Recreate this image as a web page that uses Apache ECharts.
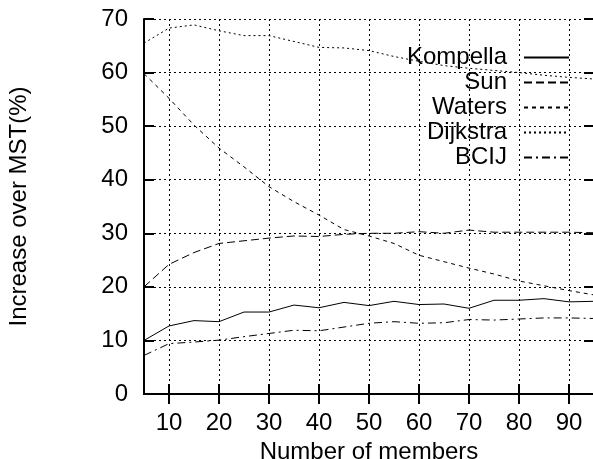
<!DOCTYPE html>
<html>
<head>
<meta charset="utf-8">
<script src="https://cdn.jsdelivr.net/npm/echarts@6/dist/echarts.min.js"></script>
<style>
  html, body { margin: 0; padding: 0; background: #fff; }
  #chart { width: 593px; height: 459px; }
</style>
</head>
<body>
<div id="chart"></div>
<script>
// group sizes (x) and increase over MST per algorithm
const members = [5, 10, 15, 20, 25, 30, 35, 40, 45, 50, 55, 60, 65, 70, 75, 80, 85, 90, 95];
const kompella = [10, 12.7, 13.7, 13.5, 15.3, 15.3, 16.6, 16.1, 17.1, 16.5, 17.3, 16.7, 16.8, 16.0, 17.5, 17.5, 17.8, 17.2, 17.3];
const sun = [20, 24.2, 26.4, 28.1, 28.6, 29.1, 29.5, 29.4, 29.8, 30.0, 30.0, 30.3, 30.0, 30.6, 30.2, 30.2, 30.2, 30.2, 30.1];
const waters = [59.8, 55.2, 50.2, 45.9, 42.4, 38.7, 35.9, 33.4, 30.7, 29.5, 28.1, 25.9, 24.7, 23.5, 22.4, 21.1, 20.2, 19.3, 18.5];
const dijkstra = [65.5, 68.3, 68.9, 67.8, 66.9, 66.9, 65.8, 64.7, 64.6, 64.1, 63.0, 62.1, 61.3, 60.8, 60.4, 60.0, 59.5, 59.1, 58.8];
const bcij = [7.2, 9.4, 9.7, 10.05, 10.7, 11.3, 11.9, 11.8, 12.5, 13.2, 13.5, 13.2, 13.3, 13.9, 13.8, 14.0, 14.2, 14.2, 14.1];
const xTicks = [10, 20, 30, 40, 50, 60, 70, 80, 90];

const FONT = 'Liberation Sans';
const FONT_SIZE = 24;
const seriesDefs = [
  { name: 'Kompella', data: kompella, type: 'solid' },
  { name: 'Sun', data: sun, type: [8, 4] },
  { name: 'Waters', data: waters, type: [4, 4] },
  { name: 'Dijkstra', data: dijkstra, type: [2, 3] },
  { name: 'BCIJ', data: bcij, type: [8, 4, 2, 4] },
];

const gridLine = {
  show: true,
  lineStyle: { color: '#000', width: 1, type: [2, 3] },
};
const tickStyle = { color: '#000', width: 2 };

const chart = echarts.init(document.getElementById('chart'));
chart.setOption({
  animation: false,
  textStyle: { fontFamily: FONT },
  grid: { left: 144, right: -1, top: 19, bottom: 65, outerBoundsMode: 'none' },
  legend: {
    right: 18,
    top: 40,
    orient: 'vertical',
    align: 'right',
    itemWidth: 45,
    itemHeight: 10,
    itemGap: 0,
    itemStyle: { color: 'transparent', borderWidth: 0 },
    textStyle: {
      fontFamily: FONT,
      fontSize: FONT_SIZE,
      color: '#000',
      lineHeight: 25,
      padding: [0, 12, 0, 0],
    },
  },
  xAxis: [
    {
      type: 'value',
      min: 5,
      max: 95,
      name: 'Number of members',
      nameLocation: 'middle',
      nameGap: 46,
      nameTextStyle: { fontFamily: FONT, fontSize: FONT_SIZE, color: '#000' },
      axisLine: { lineStyle: { color: '#000', width: 2 } },
      axisTick: { inside: true, length: 10, customValues: xTicks, lineStyle: tickStyle },
      axisLabel: { customValues: xTicks, margin: 17, fontFamily: FONT, fontSize: FONT_SIZE, color: '#000' },
      splitLine: gridLine,
    },
    {
      type: 'value',
      position: 'top',
      min: 5,
      max: 95,
      axisLine: { lineStyle: { color: '#000', width: 2 } },
      axisTick: { inside: true, length: 10, customValues: xTicks, lineStyle: tickStyle },
      axisLabel: { show: false },
      splitLine: { show: false },
    },
  ],
  yAxis: [
    {
      type: 'value',
      min: 0,
      max: 70,
      interval: 10,
      name: 'Increase over MST(%)',
      nameLocation: 'middle',
      nameGap: 113,
      nameTextStyle: { fontFamily: FONT, fontSize: FONT_SIZE, color: '#000' },
      axisLine: { show: true, lineStyle: { color: '#000', width: 2 } },
      axisTick: { show: true, inside: true, length: 10, lineStyle: tickStyle },
      axisLabel: { margin: 16, fontFamily: FONT, fontSize: FONT_SIZE, color: '#000' },
      splitLine: gridLine,
    },
    {
      type: 'value',
      position: 'right',
      min: 0,
      max: 70,
      interval: 10,
      axisLine: { show: false },
      axisTick: { show: true, inside: true, length: 10, lineStyle: tickStyle },
      axisLabel: { show: false },
      splitLine: { show: false },
    },
  ],
  series: seriesDefs.map((s) => ({
    name: s.name,
    type: 'line',
    data: members.map((m, i) => [m, s.data[i]]),
    symbol: 'none',
    showSymbol: false,
    lineStyle: { color: '#000', width: 1, type: s.type },
    itemStyle: { color: '#000' },
  })),
});
</script>
</body>
</html>
